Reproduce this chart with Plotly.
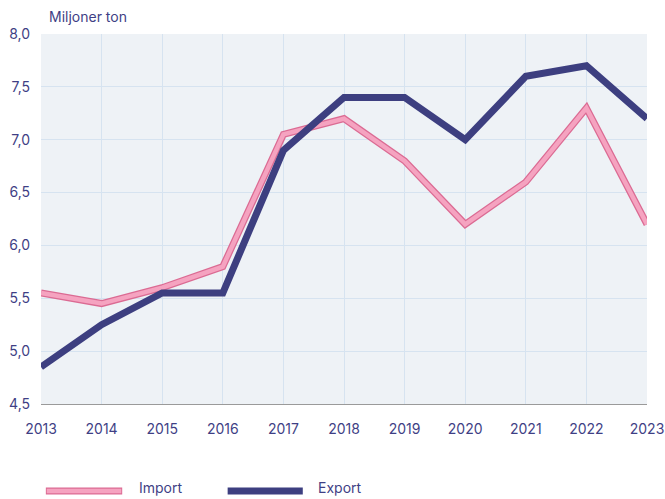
import plotly.graph_objects as go

years = [2013, 2014, 2015, 2016, 2017, 2018, 2019, 2020, 2021, 2022, 2023]
import_vals = [5.55, 5.45, 5.6, 5.8, 7.05, 7.2, 6.8, 6.2, 6.6, 7.3, 6.2]
export_vals = [4.85, 5.25, 5.55, 5.55, 6.9, 7.4, 7.4, 7.0, 7.6, 7.7, 7.2]
y_ticks = [4.5, 5.0, 5.5, 6.0, 6.5, 7.0, 7.5, 8.0]

NAVY = "#3d3f80"
PINK = "#f5a3c0"
PINK_EDGE = "#db6b93"
TEXT = "#3f3f85"

fig = go.Figure()
fig.add_trace(go.Scatter(x=years, y=import_vals, mode="lines",
                         line=dict(color=PINK_EDGE, width=7), showlegend=False, hoverinfo="skip"))
fig.add_trace(go.Scatter(x=years, y=import_vals, mode="lines", name="Import",
                         line=dict(color=PINK, width=4.5), showlegend=False))
fig.add_trace(go.Scatter(x=years, y=export_vals, mode="lines", name="Export",
                         line=dict(color=NAVY, width=7), showlegend=False))

# Manual legend
LY = -0.235
TY = -0.227
fig.add_shape(type="line", xref="paper", yref="paper", x0=0.008, x1=0.134, y0=LY, y1=LY,
              line=dict(color=PINK_EDGE, width=7))
fig.add_shape(type="line", xref="paper", yref="paper", x0=0.0095, x1=0.1325, y0=LY, y1=LY,
              line=dict(color=PINK, width=4.5))
fig.add_shape(type="line", xref="paper", yref="paper", x0=0.308, x1=0.432, y0=LY, y1=LY,
              line=dict(color=NAVY, width=7))
fig.add_annotation(text="Import", xref="paper", yref="paper", x=0.158, y=TY,
                   xanchor="left", yanchor="middle", showarrow=False,
                   font=dict(size=14, color=TEXT))
fig.add_annotation(text="Export", xref="paper", yref="paper", x=0.453, y=TY,
                   xanchor="left", yanchor="middle", showarrow=False,
                   font=dict(size=14, color=TEXT))

fig.add_annotation(text="Miljoner ton", xref="paper", yref="paper", x=0.01, y=1.0,
                   yshift=18, xanchor="left", yanchor="middle", showarrow=False,
                   font=dict(size=14, color=TEXT))

fig.update_layout(
    width=665, height=499,
    margin=dict(l=41, r=18, t=34, b=95, autoexpand=False),
    paper_bgcolor="white",
    plot_bgcolor="#eef2f6",
    font=dict(family="Inter, Roboto, sans-serif", size=14, color=TEXT),
    separators=", ",
    showlegend=False,
)
fig.update_xaxes(range=[2013, 2023], tickvals=years, ticktext=[str(y) for y in years],
                 showgrid=True, gridcolor="#d6e3f0", gridwidth=1,
                 showline=True, linecolor="#9a9a9a", linewidth=1, automargin=False,
                 ticks="", ticklabelstandoff=12, zeroline=False)
fig.update_yaxes(range=[4.5, 8.0], tickvals=y_ticks, tickformat=".1f",
                 showgrid=True, gridcolor="#d6e3f0", gridwidth=1, automargin=False,
                 ticks="", ticklabelstandoff=10, zeroline=False)

fig.write_html("out.html",
               config={"displayModeBar": False},
               post_script="document.body.style.margin='0';"
                           "document.documentElement.style.overflow='hidden';")
